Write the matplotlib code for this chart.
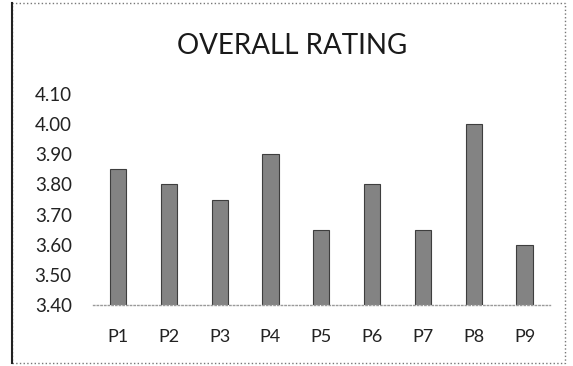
import matplotlib.pyplot as plt
from matplotlib.patches import Rectangle

categories = ['P1', 'P2', 'P3', 'P4', 'P5', 'P6', 'P7', 'P8', 'P9']
ratings = [3.85, 3.80, 3.75, 3.90, 3.65, 3.80, 3.65, 4.00, 3.60]
y_ticks = [3.40, 3.50, 3.60, 3.70, 3.80, 3.90, 4.00, 4.10]

plt.rcParams['font.family'] = ['Lato', 'DejaVu Sans']

fig = plt.figure(figsize=(5.73, 3.66), dpi=100)
ax = fig.add_axes([92.6 / 573, 1 - 305 / 366, (550 - 92.6) / 573, (305 - 94) / 366])

x = range(len(categories))
ax.bar(x, ratings, width=0.32, bottom=0, color='#838383', edgecolor='#3e3e3e', linewidth=0.8)

ax.set_ylim(3.40, 4.10)
ax.set_xlim(-0.5, len(categories) - 0.5)
ax.set_yticks(y_ticks)
ax.set_yticklabels([f'{v:.2f}' for v in y_ticks], fontsize=13.5, color='#222222')
ax.set_xticks(list(x))
ax.set_xticklabels(categories, fontsize=13, color='#222222')
ax.tick_params(axis='both', length=0)
ax.tick_params(axis='y', pad=15)
ax.tick_params(axis='x', pad=17)

for s in ['top', 'right', 'left']:
    ax.spines[s].set_visible(False)
ax.spines['bottom'].set_color('#9a9a9a')
ax.spines['bottom'].set_linestyle(':')
ax.spines['bottom'].set_linewidth(1.0)

fig.text(292 / 573, 1 - 46 / 366, 'OVERALL RATING', ha='center', va='center',
         fontsize=20, color='#1a1a1a')

# outer chart border
border = Rectangle((12 / 573, 3 / 366), (565 - 12) / 573, (363 - 3) / 366,
                   transform=fig.transFigure, fill=False, edgecolor='#777777',
                   linewidth=1.0, linestyle=':')
fig.patches.append(border)
fig.add_artist(plt.Line2D([12 / 573, 12 / 573], [3 / 366, 363 / 366],
                          transform=fig.transFigure, color='#222222', linewidth=1.5))

fig.savefig('out.png', dpi=100)
